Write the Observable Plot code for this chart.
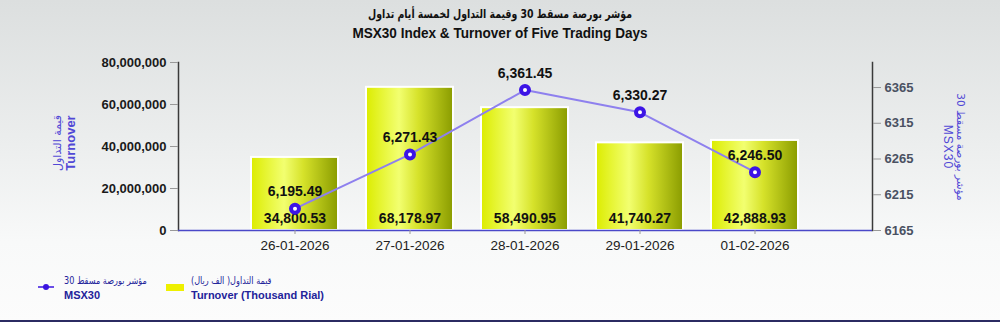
<!DOCTYPE html>
<html>
<head>
<meta charset="utf-8">
<script src="https://cdn.jsdelivr.net/npm/d3@7"></script>
<script src="https://cdn.jsdelivr.net/npm/@observablehq/plot@0.6"></script>
<style>
html, body { margin: 0; padding: 0; }
#wrap {
  position: relative; width: 1000px; height: 322px; overflow: hidden;
  background: linear-gradient(#dcdfdf 0%, #eceeee 45%, #f8f9f9 75%, #fcfcfc 100%);
  font-family: "Liberation Sans", Arial, sans-serif;
}
.t-ar { position: absolute; left: 0; width: 1000px; text-align: center; top: 7px;
  font-family: "DejaVu Sans Condensed", "DejaVu Sans", sans-serif; font-weight: bold; font-size: 12px; color: #111;
  transform: scaleX(0.87); }
.t-en { position: absolute; left: 0; width: 1000px; text-align: center; top: 24px;
  font-family: "Liberation Sans", Arial, sans-serif; font-weight: bold; font-size: 15.5px; color: #111;
  transform: scaleX(0.875); }
#chart { position: absolute; left: 0; top: 50px; }
.ylab { position: absolute; width: 160px; text-align: center; line-height: 13px; color: #5148d6; }
.ylab .ar { font-family: "DejaVu Sans", sans-serif; font-size: 11px; }
.ylab .en { font-weight: bold; font-size: 13px; }
.leg { position: absolute; color: #23239a; font-weight: bold; font-size: 11px; line-height: 14px; }
.leg .ar { display: inline-block; font-family: "DejaVu Sans", sans-serif; font-weight: normal; font-size: 10px;
  transform: scaleX(0.81); transform-origin: left center; white-space: nowrap; }
#bottomline { position: absolute; left: 0; bottom: 0; width: 1000px; height: 2px; background: #2b2b62; }
</style>
</head>
<body>
<div id="wrap">
  <div class="t-ar" dir="rtl">مؤشر بورصة مسقط 30 وقيمة التداول لخمسة أيام تداول</div>
  <div class="t-en">MSX30 Index &amp; Turnover of Five Trading Days</div>
  <div id="chart"></div>
  <div class="ylab" style="left:-16px; top:130px; transform: rotate(-90deg);">
    <div class="ar" dir="rtl">قيمة التداول</div>
    <div class="en">Turnover</div>
  </div>
  <div class="ylab" style="left:874px; top:134px; transform: rotate(90deg);">
    <div class="ar" dir="rtl" style="font-size:10.5px;">مؤشر بورصة مسقط 30</div>
    <div class="en" style="font-weight:normal;font-size:12px;letter-spacing:1px;">MSX30</div>
  </div>
  <svg style="position:absolute;left:30px;top:280px;" width="30" height="14">
    <line x1="8" x2="24" y1="7" y2="7" stroke="#3a14e0" stroke-width="1.5"></line>
    <circle cx="16" cy="7" r="3" fill="#3a14e0"></circle>
  </svg>
  <div class="leg" style="left:64px; top:273px;">
    <div><span class="ar" dir="rtl">مؤشر بورصة مسقط 30</span></div>
    <div>MSX30</div>
  </div>
  <div style="position:absolute;left:166px;top:284px;width:18px;height:7px;background:#eef000;"></div>
  <div class="leg" style="left:191px; top:273px;">
    <div><span class="ar" dir="rtl">قيمة التداول( الف ريال)</span></div>
    <div>Turnover (Thousand Rial)</div>
  </div>
  <div id="bottomline"></div>
</div>
<script>
const dates = ["26-01-2026", "27-01-2026", "28-01-2026", "29-01-2026", "01-02-2026"];
const turnoverK = [34800.53, 68178.97, 58490.95, 41740.27, 42888.93];
const msx30 = [6195.49, 6271.43, 6361.45, 6330.27, 6246.50];
const leftTicks = [0, 20000000, 40000000, 60000000, 80000000];
const rightTicks = [6165, 6215, 6265, 6315, 6365];
const leftDomain = [0, 80000000];
const rightDomain = [6165, 6400];

const toLeft = v => (v - rightDomain[0]) / (rightDomain[1] - rightDomain[0]) * leftDomain[1];
const fromLeft = y => rightDomain[0] + y / leftDomain[1] * (rightDomain[1] - rightDomain[0]);

const rows = dates.map((d, i) => ({
  date: d,
  turnover: turnoverK[i] * 1000,
  turnoverK: turnoverK[i],
  idx: msx30[i],
  idxY: toLeft(msx30[i])
}));
const f2 = d3.format(",.2f");

const chart = Plot.plot({
  width: 1000,
  height: 210,
  marginLeft: 178,
  marginRight: 128,
  marginTop: 12,
  marginBottom: 30,
  style: { background: "transparent", fontFamily: "'Liberation Sans', Arial, sans-serif", overflow: "visible" },
  x: { domain: dates, paddingInner: 0.24, paddingOuter: 0.625, label: null },
  y: { domain: leftDomain, label: null },
  marks: [
    Plot.barY(rows, { x: "date", y: "turnover", fill: "url(#barGrad)", stroke: "white", strokeWidth: 2 }),
    Plot.frame({ anchor: "left", stroke: "#3a3a3a", strokeWidth: 1.5 }),
    Plot.frame({ anchor: "right", stroke: "#3a3a3a", strokeWidth: 1.5 }),
    Plot.ruleY([0], { stroke: "#4a48c8", strokeWidth: 1.5 }),
    Plot.axisY(leftTicks, {
      anchor: "left", tickSize: 8, tickPadding: 4, label: null,
      tickFormat: d3.format(","), fontSize: 13, fontWeight: "bold", fill: "#1a1a1a", stroke: "#999"
    }),
    Plot.axisY(rightTicks.map(toLeft), {
      anchor: "right", tickSize: 8, tickPadding: 4, label: null,
      tickFormat: y => String(Math.round(fromLeft(y))), fontSize: 13, fontWeight: "bold", fill: "#4a5162", stroke: "#999"
    }),
    Plot.axisX({ tickSize: 4, tickPadding: 6, label: null, fontSize: 13.5, fill: "#222", stroke: "#999" }),
    Plot.text(rows, { x: "date", frameAnchor: "bottom", text: d => f2(d.turnoverK), dy: -8,
      fontSize: 14, fontWeight: "bold", fill: "#111" }),
    Plot.line(rows, { x: "date", y: "idxY", stroke: "#8e80ee", strokeWidth: 2 }),
    Plot.dot(rows, { x: "date", y: "idxY", r: 4, fill: "white", stroke: "#3c14e6", strokeWidth: 4 }),
    Plot.text(rows, { x: "date", y: "idxY", text: d => f2(d.idx), dy: -17,
      fontSize: 14, fontWeight: "bold", fill: "#111" })
  ]
});

d3.select(chart).insert("defs", ":first-child").html(
  `<linearGradient id="barGrad" x1="0" x2="1" y1="0" y2="0">
     <stop offset="0%" stop-color="#dcec00"/>
     <stop offset="38%" stop-color="#f2ff70"/>
     <stop offset="60%" stop-color="#d6e22a"/>
     <stop offset="100%" stop-color="#8a9c00"/>
   </linearGradient>`
);
document.getElementById("chart").appendChild(chart);
</script>
</body>
</html>
